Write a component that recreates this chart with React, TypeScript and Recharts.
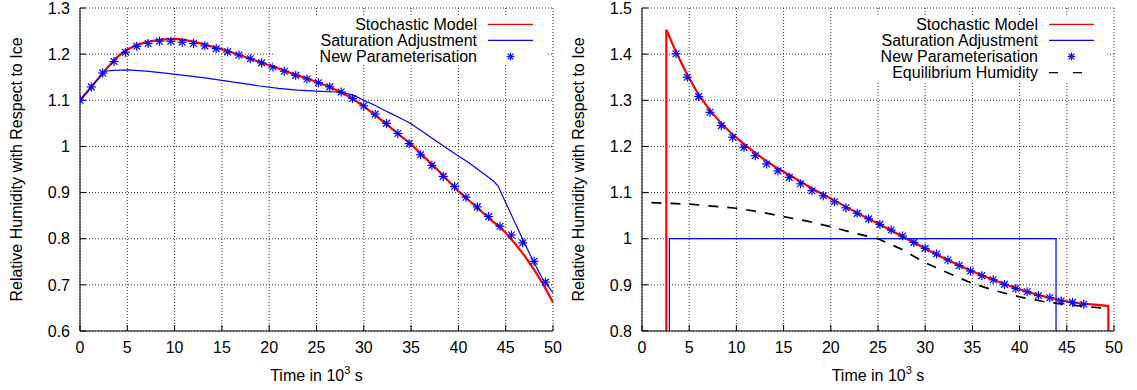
import React from 'react';
import { LineChart, Line, XAxis, YAxis, CartesianGrid, Legend } from 'recharts';

const FONT = '"Liberation Sans", Arial, Helvetica, sans-serif';

// ---- ticks ----
const xTicks = [0, 5, 10, 15, 20, 25, 30, 35, 40, 45, 50];
const leftYTicks = [0.6, 0.7, 0.8, 0.9, 1, 1.1, 1.2, 1.3];
const rightYTicks = [0.8, 0.9, 1, 1.1, 1.2, 1.3, 1.4, 1.5];

// ---- left panel ----
const leftStochT = [0,1,2,3,4,5,6,7,8,9,10,11,12,13,14,15,16,17,18,19,20,21,22,23,24,25,26,27,28,29,30,31,32,33,34,35,36,37,38,39,40,41,42,43,44,45,46,47,48,49,50];
const leftStochV = [1.100,1.124,1.149,1.173,1.195,1.210,1.220,1.226,1.230,1.232,1.233,1.231,1.227,1.222,1.216,1.211,1.204,1.197,1.190,1.183,1.176,1.169,1.161,1.154,1.147,1.140,1.132,1.123,1.113,1.101,1.087,1.071,1.055,1.038,1.021,1.005,0.985,0.965,0.945,0.924,0.903,0.885,0.867,0.849,0.831,0.813,0.789,0.763,0.733,0.700,0.662];

const leftSatT = [0,1,2,2.7,3.5,5,7,9,11,13,15,17,19,21,23,25,27,28,29,30,31,32,33,34,35,36,37,38,39,40,41,42,43,43.7,44.2,45,46,46.8,47.8,49,50];
const leftSatV = [1.100,1.124,1.148,1.163,1.165,1.166,1.163,1.159,1.154,1.149,1.143,1.137,1.131,1.126,1.122,1.120,1.118,1.116,1.110,1.100,1.091,1.080,1.070,1.060,1.049,1.035,1.021,1.007,0.993,0.979,0.966,0.951,0.936,0.925,0.914,0.878,0.834,0.799,0.756,0.709,0.683];

const leftParT = [0,1.2,2.4,3.6,4.8,6,7.2,8.4,9.6,10.8,12,13.2,14.4,15.6,16.8,18,19.2,20.4,21.6,22.8,24,25.2,26.4,27.6,28.8,30,31.2,32.4,33.6,34.8,36,37.2,38.4,39.6,40.8,42,43.2,44.4,45.6,46.8,48,49.2];
const leftParV = [1.100,1.129,1.159,1.184,1.204,1.217,1.223,1.228,1.228,1.226,1.223,1.218,1.212,1.205,1.198,1.190,1.181,1.172,1.163,1.154,1.146,1.138,1.129,1.118,1.104,1.088,1.070,1.050,1.028,1.006,0.982,0.959,0.935,0.913,0.890,0.869,0.848,0.827,0.808,0.791,0.751,0.706];

// ---- right panel ----
const rightStochT = [2.58,2.58,3.6,4.8,6,7.2,8.4,9.6,10.8,12,13.2,14.4,15.6,16.8,18,19.2,20.4,21.6,22.8,24,25.2,26.4,27.6,28.8,30,31.2,32.4,33.6,34.8,36,37.2,38.4,39.6,40.8,42,43.2,44.4,45.6,46.8,48,49.4,49.4];
const rightStochV = [0.7,1.453,1.405,1.355,1.312,1.278,1.250,1.226,1.205,1.186,1.168,1.152,1.138,1.124,1.109,1.096,1.083,1.069,1.056,1.043,1.031,1.018,1.005,0.992,0.979,0.966,0.954,0.942,0.931,0.921,0.911,0.902,0.893,0.885,0.878,0.872,0.866,0.862,0.859,0.857,0.854,0.7];

const rightSatT = [2.9, 2.9, 43.86, 43.86];
const rightSatV = [0.7, 1.0, 1.0, 0.7];

const rightParT = [3.6,4.8,6,7.2,8.4,9.6,10.8,12,13.2,14.4,15.6,16.8,18,19.2,20.4,21.6,22.8,24,25.2,26.4,27.6,28.8,30,31.2,32.4,33.6,34.8,36,37.2,38.4,39.6,40.8,42,43.2,44.4,45.6,46.8];
const rightParV = [1.401,1.350,1.308,1.274,1.245,1.220,1.198,1.180,1.162,1.147,1.133,1.119,1.104,1.093,1.080,1.067,1.055,1.043,1.031,1.019,1.006,0.992,0.979,0.967,0.954,0.942,0.930,0.920,0.911,0.901,0.892,0.885,0.877,0.872,0.865,0.862,0.858];

const rightEqT = [1,5,10,12.5,15,17.5,20,22.5,25,27.5,30,32.5,35,37.5,40,42.5,45,47,48.8];
const rightEqV = [1.078,1.075,1.066,1.058,1.048,1.038,1.026,1.012,1.000,0.977,0.948,0.925,0.903,0.887,0.874,0.864,0.857,0.853,0.850];

// ---- legend labels ----
const leftLegendNames = ['Stochastic Model', 'Saturation Adjustment', 'New Parameterisation'];
const rightLegendNames = ['Stochastic Model', 'Saturation Adjustment', 'New Parameterisation', 'Equilibrium Humidity'];

const zip = (ts: number[], vs: number[]) => ts.map((t, i) => ({ t, v: vs[i] }));

type Kind = 'red' | 'blue' | 'star' | 'dash';
const STYLE: Record<Kind, { color: string; width: number; dash?: string }> = {
  red: { color: '#ff0000', width: 2.2 },
  blue: { color: '#0000ff', width: 1.2 },
  star: { color: '#0000ff', width: 1.2 },
  dash: { color: '#000000', width: 1.7, dash: '10 9' },
};

const Star = (p: any) => {
  const { cx, cy, s = 4.5 } = p;
  if (cx == null || cy == null) return <g />;
  const d = s * 0.75;
  return (
    <g stroke="#0000ff" strokeWidth={1.2}>
      <line x1={cx - s} y1={cy} x2={cx + s} y2={cy} />
      <line x1={cx} y1={cy - s} x2={cx} y2={cy + s} />
      <line x1={cx - d} y1={cy - d} x2={cx + d} y2={cy + d} />
      <line x1={cx - d} y1={cy + d} x2={cx + d} y2={cy - d} />
    </g>
  );
};

const EmptyTick = () => <g />;

const yLabel = (props: any) => {
  const vb = props.viewBox || { x: 0, y: 8, width: 80, height: 323 };
  const cx = vb.x + vb.width - 63.5;
  const cy = vb.y + vb.height / 2;
  return (
    <text x={cx} y={cy} transform={`rotate(-90 ${cx} ${cy})`} textAnchor="middle" dominantBaseline="central"
      fontFamily={FONT} fontSize={16} fill="#000">
      Relative Humidity with Respect to Ice
    </text>
  );
};

const xLabel = (props: any) => {
  const vb = props.viewBox || { x: 80, y: 331, width: 473, height: 59 };
  const cx = vb.x + vb.width / 2;
  return (
    <text x={cx} y={vb.y + 50} textAnchor="middle" fontFamily={FONT} fontSize={16} fill="#000">
      Time in 10<tspan dy={-7} fontSize={11}>3</tspan><tspan dy={7}> s</tspan>
    </text>
  );
};

const makeLegend = (names: string[], kinds: Kind[], h: number) => () => (
  <svg width={273} height={h} style={{ display: 'block', overflow: 'visible' }}>
    {names.map((name, i) => {
      const cy = 9.3 + 16.1 * i;
      const k = kinds[i];
      const st = STYLE[k];
      return (
        <g key={i}>
          <text x={204} y={cy + 5.7} textAnchor="end" fontFamily={FONT} fontSize={16} fill="#000">{name}</text>
          {k === 'star' ? (
            <Star cx={237.5} cy={cy} s={3.8} />
          ) : k === 'dash' ? (
            <line x1={215} x2={249} y1={cy} y2={cy} stroke={st.color} strokeWidth={1.4} strokeDasharray="9 15" />
          ) : (
            <line x1={215} x2={260} y1={cy} y2={cy} stroke={st.color} strokeWidth={1.3} />
          )}
        </g>
      );
    })}
  </svg>
);

type Series = { name: string; kind: Kind; data: { t: number; v: number }[] };

const Panel = (props: {
  width: number; marginRight: number; yDomain: [number, number]; yTicks: number[];
  series: Series[]; legendHeight: number;
}) => {
  const { width, marginRight, yDomain, yTicks, series, legendHeight } = props;
  const plotRight = width - marginRight;
  const tickStyle = { fontSize: 16, fill: '#000', fontFamily: FONT };
  const axisLine = { stroke: '#000', strokeWidth: 1 };
  return (
    <LineChart width={width} height={390} margin={{ top: 8, right: marginRight, left: 0, bottom: 0 }}>
      <CartesianGrid xAxisId="b" yAxisId="l" stroke="#333" strokeDasharray="1 2" />
      <XAxis xAxisId="b" type="number" dataKey="t" domain={[0, 50]} ticks={xTicks} interval={0}
        allowDataOverflow height={59} tickSize={-6} tickMargin={17}
        axisLine={axisLine} tickLine={{ stroke: '#000' }} tick={tickStyle} label={xLabel} />
      <XAxis xAxisId="t" orientation="top" type="number" dataKey="t" domain={[0, 50]} ticks={xTicks} interval={0}
        allowDataOverflow height={0} tickSize={-6} axisLine={axisLine} tickLine={{ stroke: '#000' }} tick={EmptyTick} />
      <YAxis yAxisId="l" type="number" domain={yDomain} ticks={yTicks} interval={0} allowDataOverflow
        width={80} tickSize={-6} tickMargin={16} axisLine={axisLine} tickLine={{ stroke: '#000' }}
        tick={tickStyle} label={yLabel} />
      <YAxis yAxisId="r" orientation="right" type="number" domain={yDomain} ticks={yTicks} interval={0}
        allowDataOverflow width={0} tickSize={-6} axisLine={axisLine} tickLine={{ stroke: '#000' }} tick={EmptyTick} />
      {series.map((s, i) => {
        const st = STYLE[s.kind];
        if (s.kind === 'star') {
          return (
            <Line key={i} xAxisId="b" yAxisId="l" name={s.name} data={s.data} dataKey="v" type="linear"
              stroke="none" isAnimationActive={false} activeDot={false}
              dot={(p: any) => <Star key={`st-${p.index}`} cx={p.cx} cy={p.cy} />} />
          );
        }
        return (
          <Line key={i} xAxisId="b" yAxisId="l" name={s.name} data={s.data} dataKey="v" type="linear"
            stroke={st.color} strokeWidth={st.width} strokeDasharray={st.dash} dot={false} activeDot={false}
            isAnimationActive={false} />
        );
      })}
      <Legend layout="vertical" align="center" verticalAlign="middle"
        content={makeLegend(series.map((s) => s.name), series.map((s) => s.kind), legendHeight)}
        wrapperStyle={{ left: plotRight - 280, top: 15, width: 273, height: legendHeight, background: '#fff', lineHeight: 0 }} />
    </LineChart>
  );
};

const leftSeries: Series[] = [
  { name: leftLegendNames[0], kind: 'red', data: zip(leftStochT, leftStochV) },
  { name: leftLegendNames[1], kind: 'blue', data: zip(leftSatT, leftSatV) },
  { name: leftLegendNames[2], kind: 'star', data: zip(leftParT, leftParV) },
];

const rightSeries: Series[] = [
  { name: rightLegendNames[0], kind: 'red', data: zip(rightStochT, rightStochV) },
  { name: rightLegendNames[1], kind: 'blue', data: zip(rightSatT, rightSatV) },
  { name: rightLegendNames[2], kind: 'star', data: zip(rightParT, rightParV) },
  { name: rightLegendNames[3], kind: 'dash', data: zip(rightEqT, rightEqV) },
];

export default function App() {
  return (
    <div style={{ position: 'absolute', left: 0, top: 0, width: 1137, height: 390, background: '#fff', fontFamily: FONT }}>
      <div style={{ position: 'absolute', left: 0, top: 0 }}>
        <Panel width={568} marginRight={15} yDomain={[0.6, 1.3]} yTicks={leftYTicks} series={leftSeries} legendHeight={50} />
      </div>
      <div style={{ position: 'absolute', left: 562, top: 0 }}>
        <Panel width={575} marginRight={23} yDomain={[0.8, 1.5]} yTicks={rightYTicks} series={rightSeries} legendHeight={68} />
      </div>
    </div>
  );
}
